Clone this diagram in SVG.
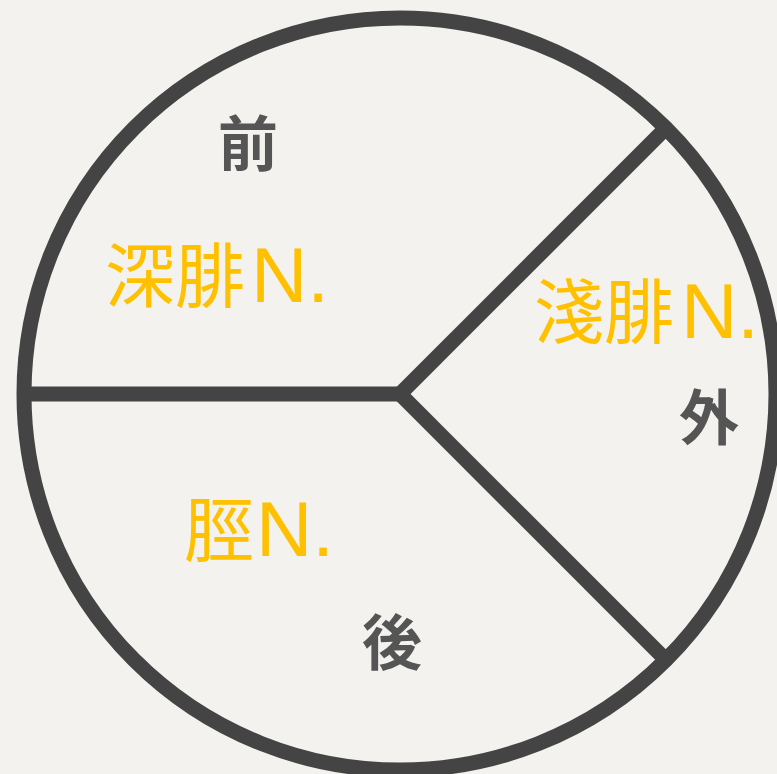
<svg xmlns="http://www.w3.org/2000/svg" width="777" height="774" viewBox="0 0 777 774">
<style>
.ln{fill:none;stroke:#444444;stroke-width:15}
.nv{fill:#FFC000;font-family:"Noto Sans CJK JP","Noto Sans CJK SC",sans-serif;font-size:70px}
.lat{font-family:"Liberation Sans",Arial,sans-serif;font-size:78px}
.dir{fill:#555555;font-family:"Noto Sans CJK JP","Noto Sans CJK SC",sans-serif;font-size:60px;font-weight:bold;text-anchor:middle}
</style>
<rect width="777" height="774" fill="#f3f2ee"/>
<g id="circle">
<circle class="ln" cx="400" cy="394" r="376"/>
</g>
<g id="connectors">
<line class="ln" x1="24" y1="394" x2="400" y2="394"/>
<line class="ln" x1="400" y1="394" x2="666" y2="128"/>
<line class="ln" x1="400" y1="394" x2="666" y2="660"/>
</g>
<g id="deep-peroneal">
<text class="nv" x="105" y="302">深腓<tspan class="lat" x="251" y="302">N.</tspan></text>
</g>
<g id="superficial-peroneal">
<text class="nv" x="534" y="338">淺腓<tspan class="lat" x="681" y="338">N.</tspan></text>
</g>
<g id="tibial">
<text class="nv" x="184" y="556">脛<tspan class="lat" x="256" y="556">N.</tspan></text>
</g>
<g id="labels">
<text class="dir" x="248" y="166">前</text>
<text class="dir" x="709" y="440">外</text>
<text class="dir" x="392" y="665">後</text>
</g>
</svg>
